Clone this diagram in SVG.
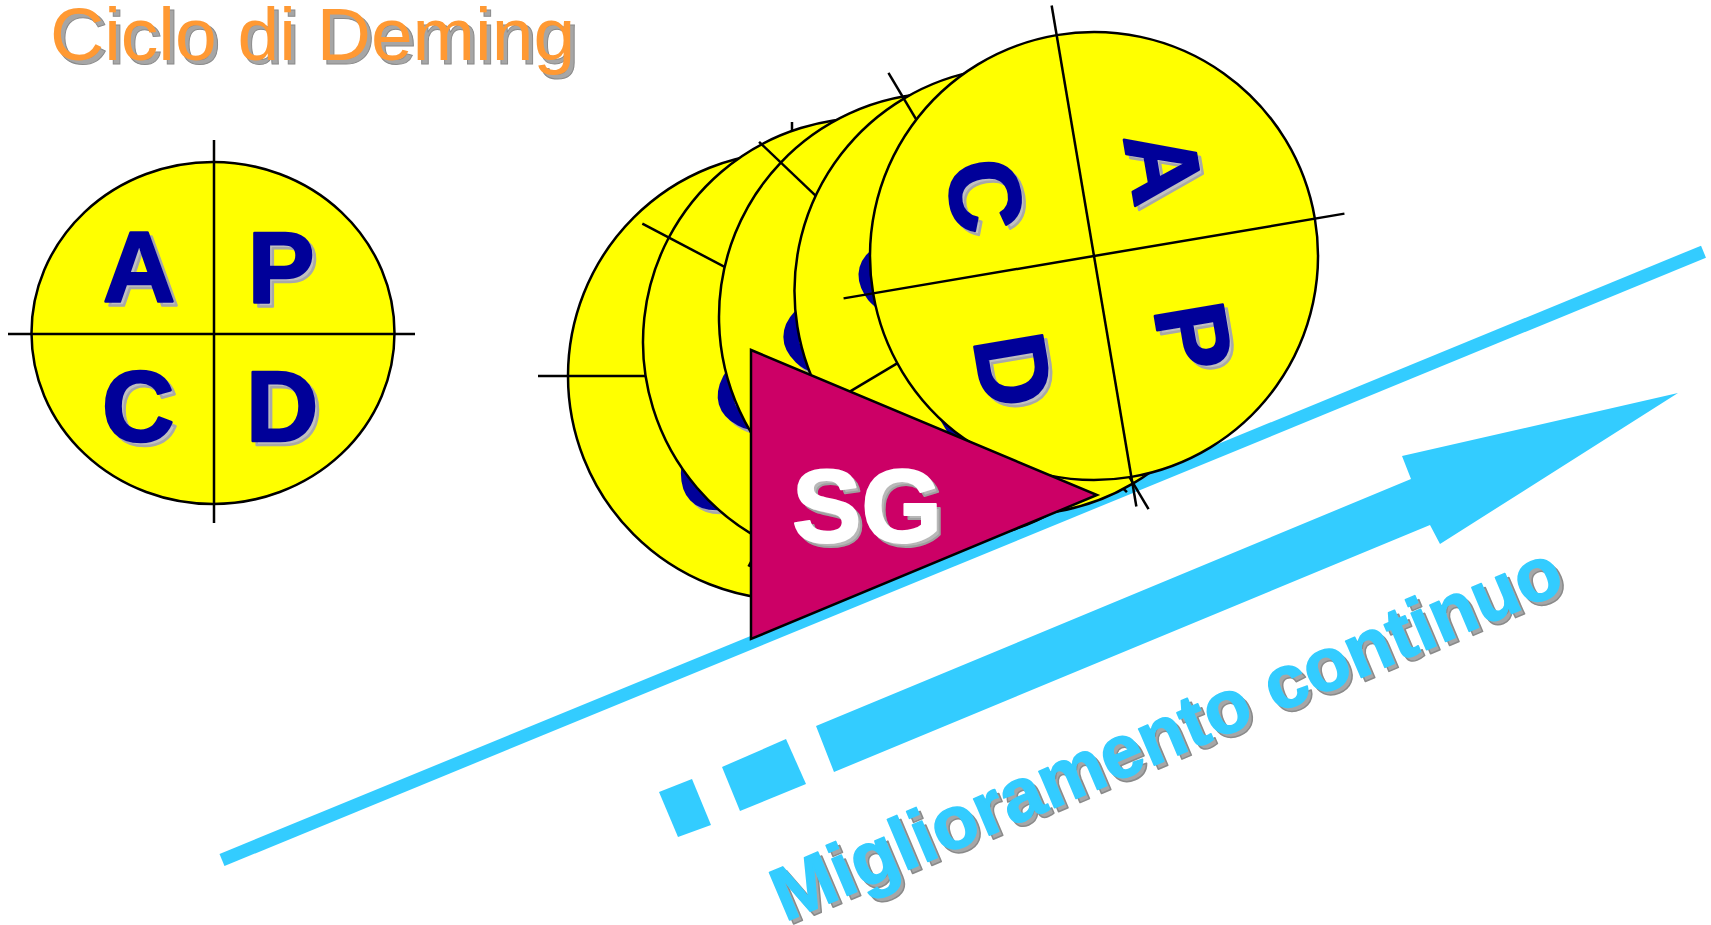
<svg xmlns="http://www.w3.org/2000/svg" width="1711" height="925" viewBox="0 0 1711 925">
<style>
.ti{font-family:"Liberation Sans",Arial,sans-serif;font-size:75px}
.lt{font-family:"Liberation Sans",Arial,sans-serif;font-weight:bold;font-size:100px;text-anchor:middle}
.bl{fill:#000099;stroke:#000099;stroke-width:2.5;stroke-linejoin:round}
.sh{fill:#C0C0C0;stroke:#A8A8A8;stroke-width:2.5;stroke-linejoin:round}
.ln{stroke:#000;stroke-width:2.5;fill:none}
.disk{fill:#FFFF00;stroke:#000;stroke-width:2.5}
.cy{fill:#33CCFF}
</style>
<rect width="1711" height="925" fill="#FFFFFF"/>
<g id="title">
<text class="ti" x="54" y="64" fill="#A6A6A6" stroke="#8A8A8A" stroke-width="1">Ciclo di Deming</text>
<text class="ti" x="50" y="60" fill="#FF9933">Ciclo di Deming</text>
</g>
<g id="pdca-static">
<ellipse class="disk" cx="213" cy="333" rx="181.5" ry="171"/>
<line class="ln" x1="214" y1="140" x2="214" y2="523"/>
<line class="ln" x1="8" y1="334" x2="415" y2="334"/>
<g transform="translate(4,4)">
<text class="lt sh" x="139" y="302">A</text>
<text class="lt sh" x="281" y="302">P</text>
<text class="lt sh" x="138" y="441">C</text>
<text class="lt sh" x="282" y="441">D</text>
</g>
<text class="lt bl" x="139" y="302">A</text>
<text class="lt bl" x="281" y="302">P</text>
<text class="lt bl" x="138" y="441">C</text>
<text class="lt bl" x="282" y="441">D</text>
</g>
<g id="slope">
<line x1="222" y1="860" x2="1703.5" y2="251.7" stroke="#33CCFF" stroke-width="13"/>
</g>
<g id="wheel1">
<g transform="translate(792,376) rotate(0)">
<circle class="disk" r="224"/>
<line class="ln" x1="-254" y1="0" x2="254" y2="0"/>
<line class="ln" x1="0" y1="-254" x2="0" y2="246"/>
</g>
<g transform="translate(796,380) rotate(0)">
<text class="lt sh" x="-76" y="-49">A</text><text class="lt sh" x="95" y="-50">P</text><text class="lt sh" x="-78" y="132">C</text><text class="lt sh" x="98" y="132">D</text>
</g>
<g transform="translate(792,376) rotate(0)">
<text class="lt bl" x="-76" y="-49">A</text><text class="lt bl" x="95" y="-50">P</text><text class="lt bl" x="-78" y="132">C</text><text class="lt bl" x="98" y="132">D</text>
</g>
</g>
<g id="wheel2">
<g transform="translate(867,342) rotate(27.8)">
<circle class="disk" r="224"/>
<line class="ln" x1="-254" y1="0" x2="254" y2="0"/>
<line class="ln" x1="0" y1="-254" x2="0" y2="254"/>
</g>
<g transform="translate(871,346) rotate(27.8)">
<text class="lt sh" x="-76" y="-49">A</text><text class="lt sh" x="95" y="-50">P</text><text class="lt sh" x="-78" y="132">C</text><text class="lt sh" x="98" y="132">D</text>
</g>
<g transform="translate(867,342) rotate(27.8)">
<text class="lt bl" x="-76" y="-49">A</text><text class="lt bl" x="95" y="-50">P</text><text class="lt bl" x="-78" y="132">C</text><text class="lt bl" x="98" y="132">D</text>
</g>
</g>
<g id="wheel3">
<g transform="translate(943,317) rotate(43.6)">
<circle class="disk" r="224"/>
<line class="ln" x1="-254" y1="0" x2="254" y2="0"/>
<line class="ln" x1="0" y1="-254" x2="0" y2="254"/>
</g>
<g transform="translate(947,321) rotate(43.6)">
<text class="lt sh" x="-76" y="-49">A</text><text class="lt sh" x="95" y="-50">P</text><text class="lt sh" x="-78" y="132">C</text><text class="lt sh" x="98" y="132">D</text>
</g>
<g transform="translate(943,317) rotate(43.6)">
<text class="lt bl" x="-76" y="-49">A</text><text class="lt bl" x="95" y="-50">P</text><text class="lt bl" x="-78" y="132">C</text><text class="lt bl" x="98" y="132">D</text>
</g>
</g>
<g id="wheel4">
<g transform="translate(1018.5,291) rotate(59.2)">
<circle class="disk" r="224"/>
<line class="ln" x1="-254" y1="0" x2="254" y2="0"/>
<line class="ln" x1="0" y1="-254" x2="0" y2="254"/>
</g>
<g transform="translate(1022.5,295) rotate(59.2)">
<text class="lt sh" x="-76" y="-49">A</text><text class="lt sh" x="95" y="-50">P</text><text class="lt sh" x="-78" y="132">C</text><text class="lt sh" x="98" y="132">D</text>
</g>
<g transform="translate(1018.5,291) rotate(59.2)">
<text class="lt bl" x="-76" y="-49">A</text><text class="lt bl" x="95" y="-50">P</text><text class="lt bl" x="-78" y="132">C</text><text class="lt bl" x="98" y="132">D</text>
</g>
</g>
<g id="wheel5">
<g transform="translate(1094,256) rotate(80.4)">
<circle class="disk" r="224"/>
<line class="ln" x1="-254" y1="0" x2="254" y2="0"/>
<line class="ln" x1="0" y1="-254" x2="0" y2="254"/>
</g>
<g transform="translate(1098,260) rotate(80.4)">
<text class="lt sh" x="-76" y="-49">A</text><text class="lt sh" x="96" y="-50">P</text><text class="lt sh" x="-78" y="132">C</text><text class="lt sh" x="99" y="133">D</text>
</g>
<g transform="translate(1094,256) rotate(80.4)">
<text class="lt bl" x="-76" y="-49">A</text><text class="lt bl" x="96" y="-50">P</text><text class="lt bl" x="-78" y="132">C</text><text class="lt bl" x="99" y="133">D</text>
</g>
</g>
<g id="sg">
<polygon points="751,350 751,639 1097,495" fill="#CC0066" stroke="#000" stroke-width="2.5" stroke-linejoin="miter"/>
<text x="796" y="546" font-family="Liberation Sans, Arial, sans-serif" font-weight="bold" font-size="104" fill="#B8B8B8" stroke="#A0A0A0" stroke-width="2" stroke-linejoin="round">SG</text>
<text x="792" y="542" font-family="Liberation Sans, Arial, sans-serif" font-weight="bold" font-size="104" fill="#FFFFFF" stroke="#FFFFFF" stroke-width="2" stroke-linejoin="round">SG</text>
</g>
<g id="arrow">
<polygon class="cy" points="659,792 692,779 711,825 678,837"/>
<polygon class="cy" points="722,767 786,739 806,784 740,811"/>
<polygon class="cy" points="816,726 1411,479 1402,456 1678,393 1440,544 1430,525 834,772"/>
</g>
<g id="label">
<g transform="translate(789,926) rotate(-23)">
<text x="0" y="0" font-family="Liberation Sans, Arial, sans-serif" font-weight="bold" font-size="75" fill="#A6A6A6" stroke="#8A8A8A" stroke-width="1.5" stroke-linejoin="round">Miglioramento continuo</text>
</g>
<g transform="translate(785,922) rotate(-23)">
<text x="0" y="0" font-family="Liberation Sans, Arial, sans-serif" font-weight="bold" font-size="75" fill="#33CCFF" stroke="#33CCFF" stroke-width="1.5" stroke-linejoin="round">Miglioramento continuo</text>
</g>
</g>
</svg>
